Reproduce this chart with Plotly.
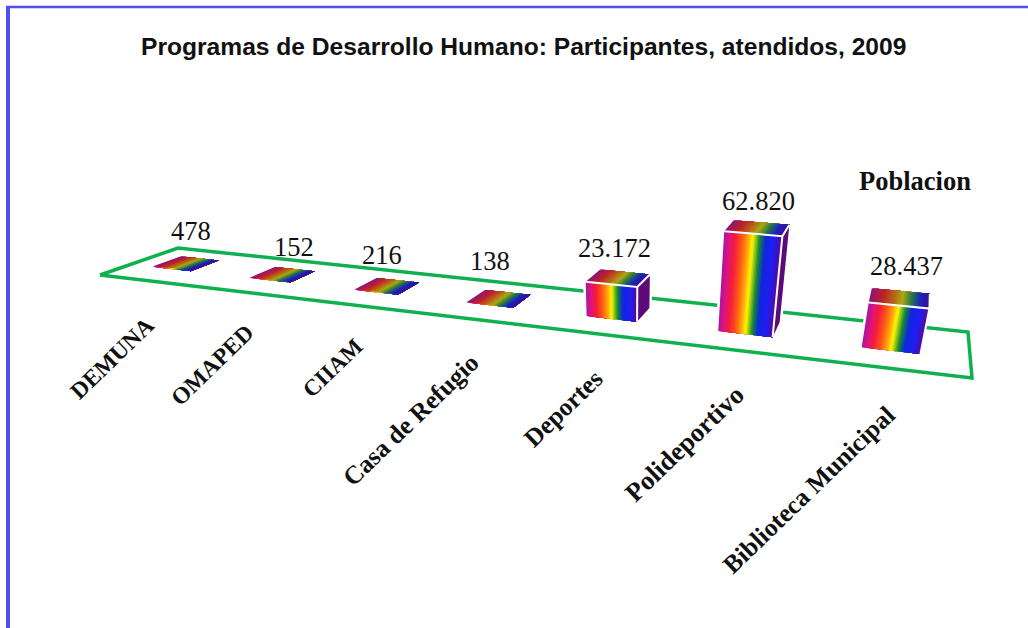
import numpy as np
import plotly.graph_objects as go

# ---- data ----
categories = ["DEMUNA", "OMAPED", "CIIAM", "Casa de Refugio", "Deportes", "Polideportivo", "Biblioteca Municipal"]
poblacion = [478, 152, 216, 138, 23172, 62820, 28437]
value_labels = ["478", "152", "216", "138", "23.172", "62.820", "28.437"]
title_text = "Programas de Desarrollo Humano: Participantes, atendidos, 2009"
legend_text = "Poblacion"

# ---- layout / style (separate from the data) ----
W, H = 1028, 628
FLOOR_FRONT_L, FLOOR_FRONT_R = (100, 275), (972, 378)
FLOOR_BACK_L, FLOOR_BACK_R = (178, 248), (968, 332)
PZ = (-0.00054, -0.00158, -8.6e-7)  # per-unit height terms
BAR_CENTER = [0.44, 0.42, 0.42, 0.42, 0.42, 0.44, 0.47]
BAR_W, V0, V1 = 0.40, 0.37, 0.74
VALUE_POS = [(191, 231), (294, 247), (382, 255), (490, 261), (614, 248), (758, 201), (906, 266)]
CAT_POS = [(112, 358), (212, 365), (332, 368), (410, 420), (563, 408), (684, 444), (808, 490)]
CAT_SIZE = [23.5, 23.5, 23, 25.5, 25.5, 26.5, 25.5]
CAT_ANGLE = -44
GREEN = "#0fb04f"
N = 40

STOPS = [(0.00, (170, 20, 170)), (0.10, (225, 20, 120)), (0.20, (245, 30, 60)), (0.32, (255, 90, 20)),
         (0.44, (255, 180, 10)), (0.50, (255, 250, 0)), (0.62, (20, 140, 50)), (0.72, (15, 40, 220)),
         (0.86, (30, 30, 245)), (1.00, (90, 10, 150))]
TOP_STOPS = [(0.00, (145, 20, 120)), (0.22, (190, 35, 40)), (0.40, (185, 100, 25)), (0.55, (170, 170, 15)),
             (0.70, (40, 120, 70)), (0.85, (25, 35, 195)), (1.00, (65, 15, 140))]


def ramp(stops, t):
    ts = [s[0] for s in stops]
    return "rgb(%d,%d,%d)" % tuple(np.interp(t, ts, [s[1][k] for s in stops]) for k in range(3))


# projective map: floor (u, v) in [0,1]^2 plus height z -> page pixels
def build():
    (x0, y0), (x1, y1), (x3, y3), (x2, y2) = FLOOR_FRONT_L, FLOOR_FRONT_R, FLOOR_BACK_L, FLOOR_BACK_R
    A = np.array([[x1 - x2, x3 - x2], [y1 - y2, y3 - y2]], float)
    s = np.array([x0 - x1 + x2 - x3, y0 - y1 + y2 - y3], float)
    g, h = np.linalg.solve(A, s)
    return np.array([[x1 - x0 + g * x1, x3 - x0 + h * x3, x0],
                     [y1 - y0 + g * y1, y3 - y0 + h * y3, y0],
                     [g, h, 1.0]])


M = build()


def proj(u, v, z=0.0):
    X, Y, Wp = M @ np.array([u, v, 1.0])
    X += PZ[0] * z
    Y += PZ[1] * z
    Wp += PZ[2] * z
    return X / Wp, Y / Wp


n = len(categories)


def bar_u(i):
    return (i + BAR_CENTER[i] - BAR_W / 2) / n, (i + BAR_CENTER[i] + BAR_W / 2) / n


def polys(points_list):
    xs, ys = [], []
    for pts in points_list:
        for p in pts + [pts[0]]:
            xs.append(p[0]); ys.append(p[1])
        xs.append(None); ys.append(None)
    return xs, ys


fig = go.Figure()
common = dict(mode="lines", hoverinfo="skip", showlegend=False)

# floor outline
fx, fy = polys([[FLOOR_FRONT_L, FLOOR_FRONT_R, FLOOR_BACK_R, FLOOR_BACK_L]])
fig.add_trace(go.Scatter(x=fx, y=fy, line=dict(color=GREEN, width=3.5), **common))

# white halo round every bar, dark side faces
halo, side = [], []
for i, val in enumerate(poblacion):
    a, b = bar_u(i)
    halo.append([proj(a, V0), proj(b, V0), proj(b, V1), proj(b, V1, val), proj(a, V1, val), proj(a, V0, val)])
    side.append([proj(b, V0), proj(b, V1), proj(b, V1, val), proj(b, V0, val)])
hx, hy = polys(halo)
fig.add_trace(go.Scatter(x=hx, y=hy, fill="toself", fillcolor="white", line=dict(color="white", width=5), **common))
sx, sy = polys(side)
fig.add_trace(go.Scatter(x=sx, y=sy, fill="toself", fillcolor="#5c0a78", line=dict(color="#5c0a78", width=0), **common))

# rainbow top faces, then front faces: each strip runs to the right edge and the next one paints over it
for face, stops in (("top", TOP_STOPS), ("front", STOPS)):
    for k in range(N):
        t = k / N
        group = []
        for i, val in enumerate(poblacion):
            a, b = bar_u(i)
            ut = a + (b - a) * t
            if face == "top":
                group.append([proj(ut, V0, val), proj(b, V0, val), proj(b, V1, val), proj(ut, V1, val)])
            else:
                group.append([proj(ut, V0), proj(b, V0), proj(b, V0, val), proj(ut, V0, val)])
        px_, py_ = polys(group)
        col = ramp(stops, (k + 0.5) / N)
        fig.add_trace(go.Scatter(x=px_, y=py_, fill="toself", fillcolor=col, line=dict(color=col, width=0), **common))

# white edges on the taller bars
ex, ey = [], []
for i, val in enumerate(poblacion):
    if val < 1000:
        continue
    a, b = bar_u(i)
    for p in [proj(a, V0, val), proj(b, V0, val), proj(b, V1, val), None, proj(b, V0, val), proj(b, V0)]:
        ex.append(p[0] if p else None); ey.append(p[1] if p else None)
    ex.append(None); ey.append(None)
fig.add_trace(go.Scatter(x=ex, y=ey, line=dict(color="white", width=2), **common))

ann = []
for (x, y), t in zip(VALUE_POS, value_labels):
    ann.append(dict(x=x, y=y, text=t, showarrow=False, font=dict(family="Liberation Serif", size=26.5, color="#111")))
for (x, y), s, t in zip(CAT_POS, CAT_SIZE, categories):
    ann.append(dict(x=x, y=y, text="<b>%s</b>" % t, textangle=CAT_ANGLE, showarrow=False,
                    font=dict(family="Liberation Serif", size=s, color="#111")))
ann.append(dict(x=915, y=181, text="<b>%s</b>" % legend_text, showarrow=False,
                font=dict(family="Liberation Serif", size=26.5, color="#111")))
ann.append(dict(x=523, y=46, text="<b>%s</b>" % title_text, showarrow=False,
                font=dict(family="Liberation Sans", size=24.6, color="#111")))

fig.update_layout(
    width=W, height=H, margin=dict(l=0, r=0, t=0, b=0), paper_bgcolor="white", plot_bgcolor="white",
    xaxis=dict(range=[0, W], visible=False, fixedrange=True),
    yaxis=dict(range=[H, 0], visible=False, fixedrange=True),
    annotations=ann,
    shapes=[
        dict(type="line", x0=8, x1=8, y0=6, y1=H, line=dict(color="#5050f0", width=4)),
        dict(type="line", x0=6, x1=W, y0=7, y1=7, line=dict(color="#5050f0", width=2.5)),
    ],
)
fig.write_html("out.html", config=dict(displayModeBar=False),
               post_script="document.body.style.margin='0';document.documentElement.style.overflow='hidden';")
